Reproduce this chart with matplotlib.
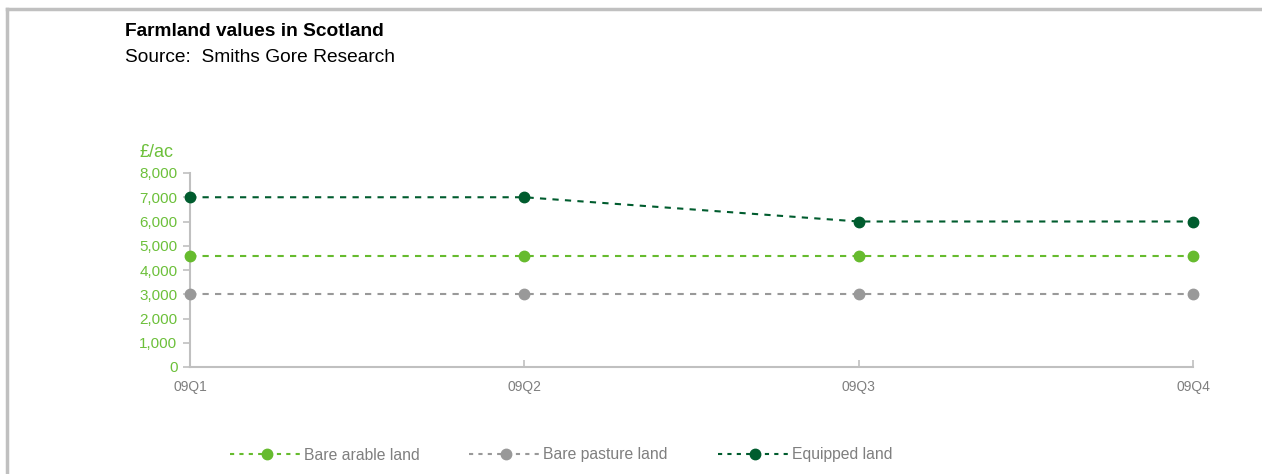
import matplotlib
matplotlib.use("Agg")
from matplotlib import pyplot as plt
from matplotlib.lines import Line2D
from matplotlib.ticker import FuncFormatter

plt.rcParams['font.family'] = ['Liberation Sans', 'DejaVu Sans']

# data
quarters = ['09Q1', '09Q2', '09Q3', '09Q4']
bare_arable = [4570, 4570, 4570, 4570]
bare_pasture = [3000, 3000, 3000, 3000]
equipped = [7000, 7000, 6000, 6000]

c_arable = '#66bb2e'
c_pasture = '#999999'
c_equipped = '#005c2e'
c_axis = '#c0c0c0'
c_tick = '#6cc03a'

fig = plt.figure(figsize=(12.62, 4.74), dpi=100)
ax = fig.add_axes([190 / 1262, 1 - 367 / 474, (1193 - 190) / 1262, (367 - 173) / 474])

x = range(len(quarters))
for vals, col, name in [(bare_arable, c_arable, 'Bare arable land'),
                        (bare_pasture, c_pasture, 'Bare pasture land'),
                        (equipped, c_equipped, 'Equipped land')]:
    ax.plot(x, vals, color=col, linestyle=(0, (3, 3)), linewidth=1.5,
            marker='o', markersize=7.5, clip_on=False, zorder=3, label=name)

ax.set_xlim(0, 3)
ax.set_ylim(0, 8000)
ax.set_yticks(range(0, 8001, 1000))
ax.yaxis.set_major_formatter(FuncFormatter(lambda v, p: f'{int(v):,}'))
ax.set_xticks(list(x))
ax.set_xticklabels(quarters)

for s in ['top', 'right']:
    ax.spines[s].set_visible(False)
for s in ['left', 'bottom']:
    ax.spines[s].set_color(c_axis)
    ax.spines[s].set_linewidth(1.5)

ax.tick_params(axis='y', colors=c_axis, labelcolor=c_tick, labelsize=11,
               length=5, width=1.2, direction='out', pad=4)
ax.tick_params(axis='x', colors=c_axis, labelcolor='#7f7f7f', labelsize=10,
               length=5, width=1.2, direction='in', pad=9)

fig.text(140 / 1262, 1 - 152 / 474, '£/ac', color=c_tick, fontsize=13,
         ha='left', va='center')

fig.text(125 / 1262, 1 - 32 / 474, 'Farmland values in Scotland', fontsize=13.8,
         fontweight='bold', ha='left', va='center')
fig.text(125 / 1262, 1 - 58 / 474, 'Source:  Smiths Gore Research', fontsize=13.8,
         ha='left', va='center')

# frame lines
fig.add_artist(Line2D([7 / 1262, 1], [1 - 9 / 474, 1 - 9 / 474], color='#c0c0c0', linewidth=2.5,
                      transform=fig.transFigure))
fig.add_artist(Line2D([7 / 1262, 7 / 1262], [0, 1 - 9 / 474], color='#c0c0c0', linewidth=2.5,
                      transform=fig.transFigure))

leg = fig.legend(loc='center', bbox_to_anchor=(561 / 1262, 1 - 455 / 474), ncol=3,
                 frameon=False, fontsize=11.3, handlelength=4.7, columnspacing=3.2,
                 handletextpad=0.0)
for t in leg.get_texts():
    t.set_color('#7f7f7f')
for h in leg.legend_handles:
    h.set_linestyle((0, (2, 2.5)))

fig.savefig('out.png', dpi=100)
